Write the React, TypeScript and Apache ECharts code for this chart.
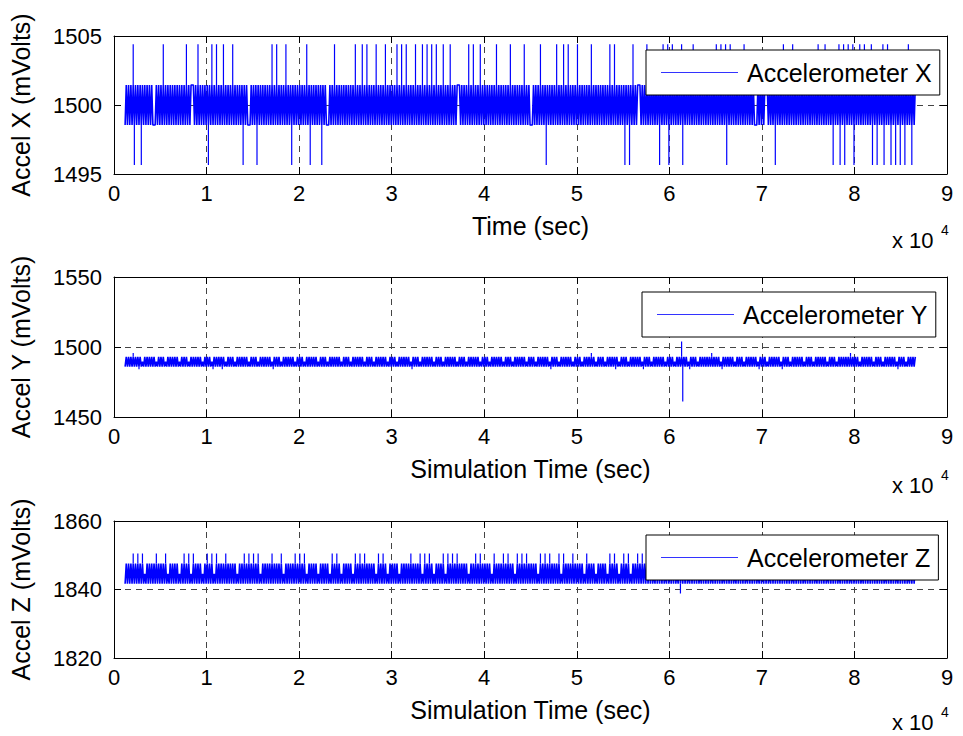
import React, { useEffect, useRef } from 'react';
import * as echarts from 'echarts';

const FONT = '"Liberation Sans", Arial, Helvetica, sans-serif';

// Sampling of the recorded data (seconds)
const sampleStart = 1200;
const sampleStep = 125;

// X axis of all three plots
const timeMin = 0;
const timeMax = 90000;
const timeInterval = 10000;

// Quantised ADC levels (mV) used by each channel, indexed by the codes below
const xLevels = [1495.66, 1498.55, 1501.45, 1504.4];
const yLevels = [1484.1, 1486.0, 1489.5, 1493.0, 1495.7, 1504.0, 1461.0];
const zLevels = [1841.7, 1844.6, 1847.6, 1850.5, 1838.8];

// Codes bounding the dense band of each channel (outside: isolated spikes)
const xBand = [1, 2];
const yBand = [1, 3];
const zBand = [0, 2];

// Sample codes, one character per sample (20 samples per chunk)
const xCodes = [
  '12121213021212021212', '12121112121213121212', '12121212121213121222', '12131212121202131213',
  '12121312121213121212', '12021211121212021212', '12121213121312121213', '12120212121212121312',
  '02121212120212111212', '13121212121212121213', '12121312131212121312', '12121312121212131213',
  '12131212121312121312', '13121312131212131212', '13121212221212121312', '13121213121212121212',
  '13121212121213121212', '12121312121112121213', '12120212121213121213', '12131212121312121212',
  '12131212121212121213', '12131212121202120213', '12122212121312121212', '12021312130213121212',
  '13021212121312121212', '12121212121312131213', '02131212121212131212', '12121112121212221212',
  '12021212131212121312', '12121212121212121213', '12121312121202121302', '13021312130212131213',
  '12121302120212130213', '12021202120212021312', '0212',
].join('');

const yCodes = [
  '13131314131303121313', '13131312131313121313', '13131312131313121313', '13131312131313120313',
  '13130312131313121313', '13131312131313121313', '13131312031313121313', '13131312131313121313',
  '13131312131313121313', '13131312131313121313', '13131312131313121313', '13131312131313121313',
  '13131312031313121313', '13131312131313121313', '13131312131313121313', '13131312131313121313',
  '13131312131313121313', '13131312131313121313', '13131312031313121313', '13131312131313121313',
  '13141312131313121313', '13130312131313121313', '13131312031313121313', '13131312131313121313',
  '15631312031313121313', '13131314131313120313', '13131312131313121313', '13131312031313121313',
  '13131312031313121313', '13131312131313121313', '13131312131313121313', '13131314131313121313',
  '13131312131313121313', '13131312031313121313', '1313',
].join('');

const zCodes = [
  '02020203020302030102', '02020203020202030102', '02020201020302030103', '02020201020302030103',
  '02020203020202020102', '02030203020302030102', '02020203020202030102', '02020203020302030102',
  '02020201020202020103', '02030201020202020103', '02030203020202020103', '02030201020202020102',
  '02020203020202030103', '02030201020202030103', '02030203020202020102', '02030203020202020103',
  '02020203020302020103', '02030203020202020103', '02030203020202030103', '02020203020202020103',
  '02020201020202020103', '02030201020302030102', '02030203020202020103', '02020201020302020102',
  '42020201020302020102', '02030201020202030102', '02020201020302020102', '02030201020202020102',
  '02020203020202020102', '02020201020202030102', '02020201020202020103', '02020201020302020102',
  '02020203020202020102', '02030201020202020102', '0202',
].join('');

const seriesNames = ['Accelerometer X', 'Accelerometer Y', 'Accelerometer Z'];
const yNames = ['Accel X (mVolts)', 'Accel Y (mVolts)', 'Accel Z (mVolts)'];
const xNames = ['Time (sec)', 'Simulation Time (sec)', 'Simulation Time (sec)'];
const yMins = [1495, 1450, 1820];
const yMaxs = [1505, 1550, 1860];
const yIntervals = [5, 50, 20];

// Split samples into the dense band (line) and the isolated spikes (vertical strokes)
function build(codes: string, levels: number[], band: number[]) {
  const lo = levels[band[0]];
  const hi = levels[band[1]];
  const bandData: any[] = [];
  const spikeData: any[] = [];
  codes.split('').forEach((c, i) => {
    const t = sampleStart + i * sampleStep;
    const v = levels[Number(c)];
    if (v > hi) {
      bandData.push([t, hi]);
      spikeData.push([t, hi], [t, v], [t, null]);
    } else if (v < lo) {
      bandData.push([t, lo]);
      spikeData.push([t, lo], [t, v], [t, null]);
    } else {
      bandData.push([t, v]);
    }
  });
  return { bandData, spikeData };
}

export default function App() {
  const ref = useRef<HTMLDivElement>(null);
  useEffect(() => {
    if (!ref.current) return;
    const chart = echarts.init(ref.current, undefined, { renderer: 'svg' });
    const grids = [
      { left: 114, top: 36, width: 833, height: 138 },
      { left: 114, top: 277, width: 833, height: 140 },
      { left: 114, top: 521, width: 833, height: 137 },
    ];
    const gridLine = { show: true, lineStyle: { color: '#444', type: [6, 5] as any, width: 1 } };
    const axisLine = { show: true, onZero: false, lineStyle: { color: '#000', width: 1 } };
    const tick = { show: true, inside: true, length: 7, lineStyle: { color: '#000' } };
    const xAxis: any[] = [];
    const yAxis: any[] = [];
    grids.forEach((_, g) => {
      xAxis.push({
        type: 'value', gridIndex: g, position: 'bottom', min: timeMin, max: timeMax, interval: timeInterval,
        axisLine, axisTick: tick, splitLine: gridLine,
        axisLabel: { fontSize: 22, color: '#000', fontFamily: FONT, margin: 8, formatter: (v: number) => String(v / 10000) },
        name: xNames[g], nameLocation: 'middle', nameGap: 39,
        nameTextStyle: { fontSize: 25, color: '#000', fontFamily: FONT },
      });
      xAxis.push({
        type: 'value', gridIndex: g, position: 'top', min: timeMin, max: timeMax, interval: timeInterval,
        axisLine, axisTick: tick, splitLine: { show: false }, axisLabel: { show: false },
      });
      yAxis.push({
        type: 'value', gridIndex: g, position: 'left', min: yMins[g], max: yMaxs[g], interval: yIntervals[g],
        axisLine, axisTick: tick, splitLine: gridLine,
        axisLabel: { fontSize: 22, color: '#000', fontFamily: FONT, margin: 12, formatter: (v: number) => String(v) },
        name: yNames[g], nameLocation: 'middle', nameGap: 81,
        nameTextStyle: { fontSize: 25, color: '#000', fontFamily: FONT },
      });
      yAxis.push({
        type: 'value', gridIndex: g, position: 'right', min: yMins[g], max: yMaxs[g], interval: yIntervals[g],
        axisLine, axisTick: tick, splitLine: { show: false }, axisLabel: { show: false },
      });
    });
    const built = [build(xCodes, xLevels, xBand), build(yCodes, yLevels, yBand), build(zCodes, zLevels, zBand)];
    const series: any[] = [];
    built.forEach((b, g) => {
      series.push({
        type: 'line', name: seriesNames[g], xAxisIndex: 2 * g, yAxisIndex: 2 * g,
        data: b.bandData, showSymbol: false, symbol: 'none',
        lineStyle: { color: '#0000ff', width: 1.6 }, itemStyle: { color: '#0000ff' },
      });
      series.push({
        type: 'line', name: seriesNames[g], xAxisIndex: 2 * g, yAxisIndex: 2 * g,
        data: b.spikeData, showSymbol: false, symbol: 'none', connectNulls: false,
        lineStyle: { color: '#0000ff', width: 1.2 }, itemStyle: { color: '#0000ff' },
      });
    });
    const legendPos = [
      { left: 646, top: 50 },
      { left: 642, top: 292 },
      { left: 646, top: 535 },
    ];
    const legend = legendPos.map((p, g) => ({
      data: [seriesNames[g]], left: p.left, top: p.top, orient: 'horizontal',
      backgroundColor: '#fff', borderColor: '#000', borderWidth: 1, borderRadius: 0,
      padding: [10, 8, 10, 15], icon: 'rect', itemWidth: 77, itemHeight: 1,
      itemStyle: { color: '#3333ff' },
      textStyle: { fontSize: 25, color: '#000', fontFamily: FONT, padding: [0, 0, 0, 4] },
      selectedMode: false,
    }));
    const expo = [240, 485, 722];
    const graphic: any[] = [];
    expo.forEach((cy) => {
      graphic.push({ type: 'text', x: 892, y: cy, style: { text: 'x 10', font: `22px ${FONT}`, fill: '#000', verticalAlign: 'middle' } });
      graphic.push({ type: 'text', x: 941, y: cy - 10, style: { text: '4', font: `14px ${FONT}`, fill: '#000', verticalAlign: 'middle' } });
    });
    chart.setOption({
      animation: false,
      backgroundColor: '#fff',
      grid: grids,
      xAxis, yAxis, series, legend, graphic,
    });
    return () => chart.dispose();
  }, []);
  return <div ref={ref} style={{ position: 'fixed', left: 0, top: 0, width: 963, height: 736, background: '#fff' }} />;
}
